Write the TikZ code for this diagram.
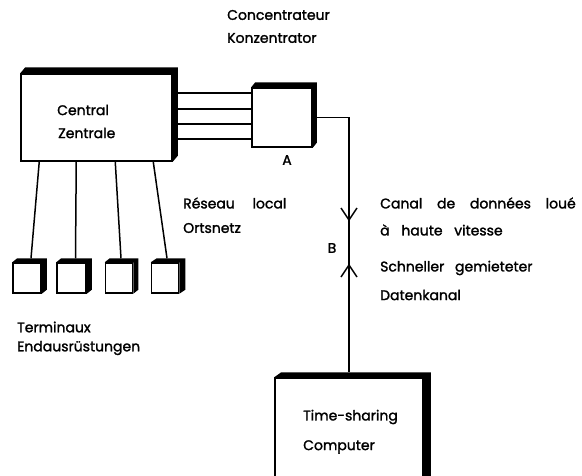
\documentclass[tikz,border=0pt]{standalone}
\usepackage{fontspec}
\setmainfont{Poppins}
\newfontfamily\lblfont[FakeBold=1.6]{Poppins}
\usetikzlibrary{calc}
\newcommand\shadebox[3]{\fill (#1.north west) -- ++(#2,-#3) -- ([shift={(#2,-#3)}]#1.north east) -- ([shift={(#2,-#3)}]#1.south east) -- (#1.south east) -- (#1.north east) -- cycle;}
\tikzset{
  box/.style={draw, line width=1.5pt, fill=white, rectangle, inner sep=0pt},
  wire/.style={line width=1.5pt},
  lbl/.style={anchor=west, inner sep=0pt, font=\lblfont\fontsize{14}{16}\selectfont},
}
\begin{document}
\begin{tikzpicture}[x=1pt,y=-1pt]
\clip (0,0) rectangle (582,475);
\fill[white] (0,0) rectangle (582,475);
% boxes
\node[box, minimum width=151pt, minimum height=87pt] (cen) at (96.5,117.5) {};
\node[box, minimum width=60pt, minimum height=59pt] (a) at (282,117.5) {};
\node[box, minimum width=28pt, minimum height=30pt] (t1) at (27,278) {};
\node[box, minimum width=29pt, minimum height=30pt] (t2) at (71.5,278) {};
\node[box, minimum width=27pt, minimum height=30pt] (t3) at (119,278) {};
\node[box, minimum width=27pt, minimum height=30pt] (t4) at (165,278) {};
\node[box, minimum width=148pt, minimum height=110pt] (comp) at (349,433) {};
\shadebox{cen}{5}{6}
\shadebox{a}{4}{5}
\shadebox{t1}{5}{4}
\shadebox{t2}{5}{4}
\shadebox{t3}{5}{4}
\shadebox{t4}{6}{4}
\shadebox{comp}{7}{5}
% wires central -> concentrator
\foreach \yy in {93,109,124,139}{
  \draw[wire] (cen.east |- 0,\yy) -- (a.west |- 0,\yy);
}
% wires central -> terminals
\draw[wire] ([xshift=19pt]cen.south west) -- ([xshift=4pt,yshift=4pt]t1.north);
\draw[wire] ([xshift=56pt]cen.south west) -- ([xshift=4pt,yshift=4pt]t2.north);
\draw[wire] ([xshift=95pt]cen.south west) -- ([xshift=2pt,yshift=4pt]t3.north);
\draw[wire] ([xshift=133pt]cen.south west) -- ([xshift=2pt,yshift=4pt]t4.north);
% concentrator -> computer
\coordinate (bend) at (349,117.5);
\draw[wire] ([xshift=4pt]a.east) -- (bend) -- ([yshift=5pt]comp.north);
% chevrons
\draw[wire] (341,208) -- (349,220) -- (357,208);
\draw[wire] (341,277) -- (349,265) -- (357,277);
% labels
\node[lbl] (l1) at (227,15) {Concentrateur};
\node[lbl] (l2) at (227,38) {Konzentrator};
\node[lbl] (l3) at (57,110) {Central};
\node[lbl] (l4) at (58,133) {Zentrale};
\node[lbl, anchor=center] (la) at (287,160) {A};
\node[lbl] (l5) at (183,203) {Réseau\hspace{14pt} local};
\node[lbl] (l6) at (183,228) {Ortsnetz};
\node[lbl] (l7) at (380,203) {Canal\hspace{11pt} de\hspace{11pt} données\hspace{11pt} loué};
\node[lbl] (l8) at (380,230) {à\hspace{8pt} haute\hspace{8pt} vitesse};
\node[lbl, anchor=center] (lb) at (332,248) {B};
\node[lbl] (l9) at (380,268) {Schneller\hspace{7pt} gemieteter};
\node[lbl] (l10) at (380,295) {Datenkanal};
\node[lbl] (l11) at (17,327) {Terminaux};
\node[lbl] (l12) at (17,348) {Endausrüstungen};
\node[lbl] (l13) at (303,417) {Time-sharing};
\node[lbl] (l14) at (303,447) {Computer};
\end{tikzpicture}
\end{document}
